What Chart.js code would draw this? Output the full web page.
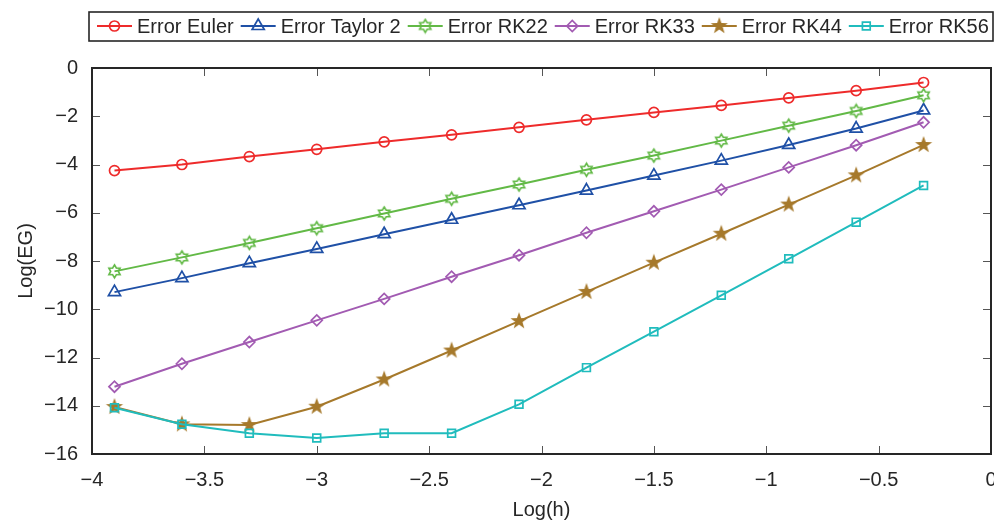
<!DOCTYPE html>
<html lang="en">
<head>
    <meta charset="UTF-8">
    <title>Error vs step size</title>
    <style>
        html, body { margin: 0; padding: 0; background: #fff; }
        #wrap { position: relative; width: 994px; height: 522px; }
    </style>
</head>
<body>
    <div id="wrap"><canvas id="errChart" width="994" height="522"></canvas></div>

    <script src="https://cdn.jsdelivr.net/npm/chart.js"></script>
    <script>
        // step sizes (log scale) and the global error of each method
        const logH = [-3.9, -3.6, -3.3, -3.0, -2.7, -2.4, -2.1, -1.8, -1.5, -1.2, -0.9, -0.6, -0.3];
        const errEuler = [-4.25, -4.0, -3.67, -3.37, -3.06, -2.77, -2.46, -2.15, -1.84, -1.55, -1.24, -0.94, -0.6];
        const errTaylor2 = [-9.29, -8.71, -8.09, -7.5, -6.89, -6.29, -5.69, -5.08, -4.46, -3.84, -3.19, -2.51, -1.76];
        const errRK22 = [-8.43, -7.85, -7.25, -6.64, -6.03, -5.42, -4.83, -4.22, -3.63, -3.01, -2.39, -1.78, -1.13];
        const errRK33 = [-13.21, -12.26, -11.36, -10.46, -9.57, -8.65, -7.76, -6.83, -5.94, -5.04, -4.12, -3.2, -2.25];
        const errRK44 = [-14.05, -14.77, -14.8, -14.04, -12.91, -11.71, -10.49, -9.28, -8.07, -6.87, -5.66, -4.45, -3.19];
        const errRK56 = [-14.08, -14.77, -15.14, -15.34, -15.14, -15.14, -13.94, -12.42, -10.93, -9.42, -7.91, -6.39, -4.87];

        const xTicks = [-4, -3.5, -3, -2.5, -2, -1.5, -1, -0.5, 0];
        const yTicks = [-16, -14, -12, -10, -8, -6, -4, -2, 0];

        const FONT = '"Liberation Sans", Arial, Helvetica, sans-serif';
        const INK = '#262626';

        // star markers drawn on small canvases (chart.js has no hexagram / filled pentagram)
        function starMarker(points, outer, inner, color, filled) {
            const size = Math.ceil(outer * 2 + 4);
            const c = document.createElement('canvas');
            c.width = size; c.height = size;
            const g = c.getContext('2d');
            g.translate(size / 2, size / 2);
            g.beginPath();
            for (let i = 0; i < points * 2; i++) {
                const r = i % 2 === 0 ? outer : inner;
                const a = -Math.PI / 2 + i * Math.PI / points;
                if (i === 0) g.moveTo(r * Math.cos(a), r * Math.sin(a));
                else g.lineTo(r * Math.cos(a), r * Math.sin(a));
            }
            g.closePath();
            if (filled) {
                g.fillStyle = color;
                g.fill();
            } else {
                g.strokeStyle = color;
                g.lineWidth = 1.6;
                g.stroke();
            }
            return c;
        }

        const hexagram = starMarker(6, 6.5, 3.8, '#62b946', false);
        const pentagram = starMarker(5, 9, 3.6, '#a6792b', true);

        function series(label, data, color, style, radius) {
            return {
                label: label,
                data: data,
                borderColor: color,
                backgroundColor: color,
                borderWidth: 2,
                pointStyle: style,
                pointRadius: radius,
                pointHoverRadius: radius,
                pointBorderWidth: 1.7,
                pointBorderColor: color,
                pointBackgroundColor: 'rgba(0,0,0,0)',
                tension: 0,
                fill: false
            };
        }

        const datasets = [
            series('Error Euler', errEuler, '#ee2b2b', 'circle', 5),
            series('Error Taylor 2', errTaylor2, '#1f50a6', 'triangle', 7),
            series('Error RK22', errRK22, '#62b946', hexagram, 7),
            series('Error RK33', errRK33, '#a25bb2', 'rectRot', 5.5),
            series('Error RK44', errRK44, '#a6792b', pentagram, 8),
            series('Error RK56', errRK56, '#20bcbd', 'rect', 5.5)
        ];
        // later series sit on top
        datasets.forEach((d, i) => { d.order = datasets.length - i; });

        const minus = v => String(Math.round(v * 10) / 10).replace('-', '\u2212');

        // axis box with inward ticks on all four sides, plus the boxed legend on top
        const boxPlugin = {
            id: 'boxAxes',
            afterDraw(chart) {
                const ctx = chart.ctx;
                const a = chart.chartArea;
                const xs = chart.scales.x, ys = chart.scales.y;
                ctx.save();

                ctx.strokeStyle = '#555';
                ctx.lineWidth = 1;
                const tl = 8;
                xTicks.forEach(t => {
                    const px = Math.round(xs.getPixelForValue(t)) + 0.5;
                    ctx.beginPath();
                    ctx.moveTo(px, a.bottom); ctx.lineTo(px, a.bottom - tl);
                    ctx.moveTo(px, a.top); ctx.lineTo(px, a.top + tl);
                    ctx.stroke();
                });
                yTicks.forEach(t => {
                    const py = Math.round(ys.getPixelForValue(t)) + 0.5;
                    ctx.beginPath();
                    ctx.moveTo(a.left, py); ctx.lineTo(a.left + tl, py);
                    ctx.moveTo(a.right, py); ctx.lineTo(a.right - tl, py);
                    ctx.stroke();
                });

                ctx.strokeStyle = INK;
                ctx.lineWidth = 2;
                ctx.strokeRect(a.left, a.top, a.right - a.left, a.bottom - a.top);

                // legend
                const ly = 26;
                ctx.font = '20px ' + FONT;
                ctx.textBaseline = 'middle';
                ctx.textAlign = 'left';
                let x = 97;
                chart.data.datasets.forEach(d => {
                    ctx.strokeStyle = d.borderColor;
                    ctx.lineWidth = 2;
                    ctx.beginPath();
                    ctx.moveTo(x, ly); ctx.lineTo(x + 35, ly);
                    ctx.stroke();
                    ctx.fillStyle = 'rgba(0,0,0,0)';
                    ctx.lineWidth = 1.7;
                    Chart.helpers.drawPoint(ctx, {
                        pointStyle: d.pointStyle, radius: d.pointRadius,
                        rotation: 0, borderWidth: 1.7
                    }, x + 17.5, ly);
                    ctx.fillStyle = INK;
                    ctx.fillText(d.label, x + 40, ly + 1);
                    x += 40 + ctx.measureText(d.label).width + 7;
                });
                ctx.strokeStyle = INK;
                ctx.lineWidth = 1.6;
                ctx.strokeRect(89, 12, 904, 29);

                ctx.restore();
            }
        };

        new Chart(document.getElementById('errChart').getContext('2d'), {
            type: 'line',
            data: {
                labels: logH,
                datasets: datasets.map(d => Object.assign({}, d, {
                    data: d.data.map((v, i) => ({ x: logH[i], y: v }))
                }))
            },
            options: {
                responsive: false,
                animation: false,
                events: [],
                layout: { autoPadding: false, padding: { top: 68, right: 3, bottom: 0, left: 0 } },
                plugins: {
                    legend: { display: false },
                    tooltip: { enabled: false }
                },
                scales: {
                    x: {
                        type: 'linear',
                        min: -4,
                        max: 0,
                        afterBuildTicks: s => { s.ticks = xTicks.map(v => ({ value: v })); },
                        afterFit: s => { s.height = 68; s.paddingLeft = 0; s.paddingRight = 0; },
                        grid: { display: false, drawTicks: false },
                        border: { display: false },
                        ticks: {
                            padding: 14,
                            color: INK,
                            font: { family: FONT, size: 20 },
                            maxRotation: 0,
                            autoSkip: false,
                            callback: v => minus(v)
                        },
                        title: {
                            display: true,
                            text: 'Log(h)',
                            color: INK,
                            font: { family: FONT, size: 20 },
                            padding: 0
                        }
                    },
                    y: {
                        type: 'linear',
                        min: -16,
                        max: 0,
                        afterBuildTicks: s => { s.ticks = yTicks.map(v => ({ value: v })); },
                        afterFit: s => { s.width = 92; s.paddingTop = 0; s.paddingBottom = 0; },
                        grid: { display: false, drawTicks: false },
                        border: { display: false },
                        ticks: {
                            padding: 14,
                            color: INK,
                            font: { family: FONT, size: 20 },
                            autoSkip: false,
                            callback: v => minus(v)
                        },
                        title: {
                            display: true,
                            text: 'Log(EG)',
                            color: INK,
                            font: { family: FONT, size: 20 },
                            padding: { top: 14, bottom: 14 }
                        }
                    }
                }
            },
            plugins: [boxPlugin]
        });
    </script>
</body>
</html>
